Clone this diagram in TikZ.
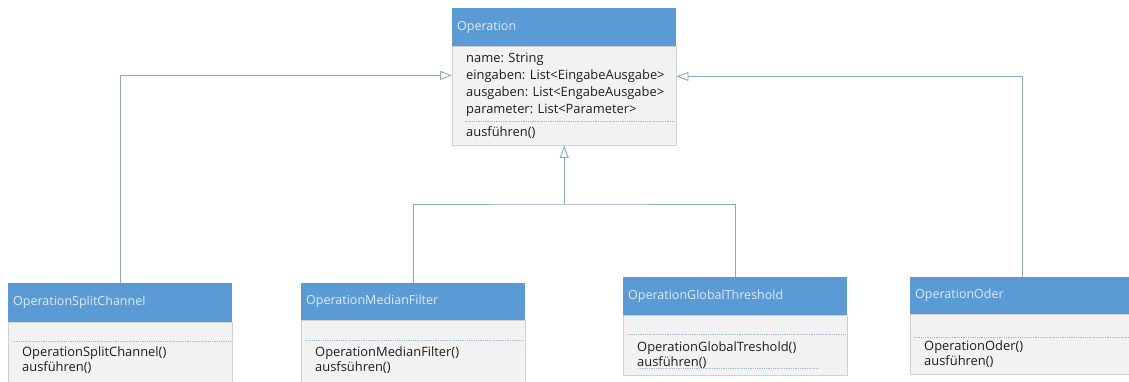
\documentclass[tikz,border=0pt]{standalone}
\usepackage{fontspec}
\setmainfont{Open Sans}
\usepackage{tikz}
\usetikzlibrary{arrows.meta,positioning}
\definecolor{hdblue}{RGB}{91,155,213}
\definecolor{hdtext}{RGB}{222,235,247}
\definecolor{bodyfill}{RGB}{242,242,242}
\definecolor{boxline}{RGB}{208,208,208}
\definecolor{conn}{RGB}{140,168,196}
\definecolor{sepline}{RGB}{150,185,220}
\definecolor{txt}{RGB}{30,30,30}

\begin{document}
\begin{tikzpicture}[x=1pt, y=-1pt,
  every node/.style={font=\fontsize{12.5}{15}\selectfont},
  head/.style={fill=hdblue, text=hdtext, anchor=north west, minimum width=224pt,
    text width=214pt, inner xsep=5pt, inner ysep=0pt, align=left},
  body/.style={fill=bodyfill, draw=boxline, anchor=north west, minimum width=224pt, inner sep=0pt},
  members/.style={text=txt, font=\fontsize{12.9}{15}\selectfont, anchor=north west,
    inner xsep=14pt, inner ysep=0pt, align=left},
  sep/.style={draw=sepline, densely dotted, line width=0.8pt},
  link/.style={draw=conn, line width=0.9pt},
  gen/.style={link, -{Triangle[open, length=12pt, width=9pt]}}]
  \useasboundingbox (0,0) rectangle (1129,381);

  % class Operation
  \node[head, minimum height=38pt] (opHead) at (452,8) {Operation};
  \node[body, minimum height=99pt] (opBody) at (opHead.south west) {};
  \node[members, font=\fontsize{12.9}{17}\selectfont] (opAttrs) at ([yshift=-6pt]opBody.north west)
    {name: String\\eingaben: List<EingabeAusgabe>\\ausgaben: List<EngabeAusgabe>\\parameter: List<Parameter>};
  \draw[sep] ([xshift=13pt,yshift=-75pt]opBody.north west) -- ([xshift=-2pt,yshift=-75pt]opBody.north east);
  \node[members] (opOps) at ([yshift=-80pt]opBody.north west) {ausführen()};

  % class OperationSplitChannel
  \node[head, minimum height=39pt] (splitHead) at (8,283) {OperationSplitChannel};
  \node[body, minimum height=70pt] (splitBody) at (splitHead.south west) {};
  \draw[sep] ([xshift=4pt,yshift=-19pt]splitBody.north west) -- ([xshift=-1pt,yshift=-19pt]splitBody.north east);
  \node[members] (splitOps) at ([yshift=-24pt]splitBody.north west) {OperationSplitChannel()\\ausführen()};

  % class OperationMedianFilter
  \node[head, minimum height=37pt] (medianHead) at (301,283) {OperationMedianFilter};
  \node[body, minimum height=70pt] (medianBody) at (medianHead.south west) {};
  \draw[sep] ([xshift=4pt,yshift=-20pt]medianBody.north west) -- ([xshift=-1pt,yshift=-20pt]medianBody.north east);
  \node[members] (medianOps) at ([yshift=-26pt]medianBody.north west) {OperationMedianFilter()\\ausfsühren()};

  % class OperationGlobalThreshold
  \node[head, minimum height=38pt] (globalHead) at (623,277) {OperationGlobalThreshold};
  \node[body, minimum height=60pt] (globalBody) at (globalHead.south west) {};
  \draw[sep] ([xshift=4pt,yshift=-19pt]globalBody.north west) -- ([xshift=-1pt,yshift=-19pt]globalBody.north east);
  \node[members] (globalOps) at ([yshift=-26pt]globalBody.north west) {OperationGlobalTreshold()\\ausführen()};
  \draw[sep] ([xshift=15pt,yshift=7pt]globalBody.south west) -- ([xshift=-28pt,yshift=7pt]globalBody.south east);

  % class OperationOder
  \node[head, minimum height=37pt] (oderHead) at (910,277) {OperationOder};
  \node[body, minimum height=60pt] (oderBody) at (oderHead.south west) {};
  \draw[sep] ([xshift=4pt,yshift=-23pt]oderBody.north west) -- ([xshift=-1pt,yshift=-23pt]oderBody.north east);
  \node[members] (oderOps) at ([yshift=-26pt]oderBody.north west) {OperationOder()\\ausführen()};

  % inheritance
  \draw[gen] (splitHead.north) |- ([yshift=-29pt]opBody.north west);
  \draw[gen] (oderHead.north) |- ([yshift=-30pt]opBody.north east);
  \coordinate (join) at (opBody.south |- 0,204);
  \draw[link] (medianHead.north) |- (join) -| (globalHead.north);
  \draw[gen] (join) -- (opBody.south);
\end{tikzpicture}
\end{document}
